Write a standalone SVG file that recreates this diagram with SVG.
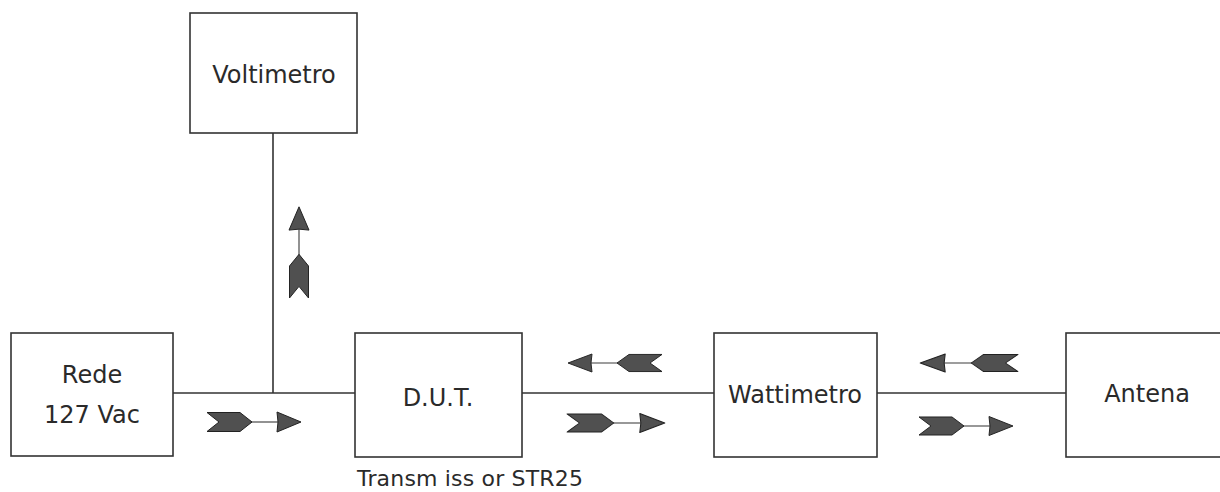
<svg xmlns="http://www.w3.org/2000/svg" xmlns:xlink="http://www.w3.org/1999/xlink" width="1220" height="492" viewBox="0 0 1220 492">
<style>
.box{fill:#fff;stroke:#333;stroke-width:1.6}
.wire{fill:none;stroke:#333;stroke-width:1.6}
.lbl{font-family:"DejaVu Sans",Verdana,sans-serif;font-size:24px;fill:#2a2a2a;text-anchor:middle}
.sub{font-family:"DejaVu Sans",Verdana,sans-serif;font-size:22px;fill:#2a2a2a}
.ah{fill:#505050;stroke:#222;stroke-width:1;stroke-linejoin:round}
.shaft{stroke:#777;stroke-width:1.6}
</style>
<defs>
<g id="arr">
<line class="shaft" x1="44" y1="0" x2="71" y2="0"/>
<polygon class="ah" points="0,-9.5 33,-9.5 45,0 33,9.5 0,9.5 12,0"/>
<polygon class="ah" points="70,-10 94,0 70,10 71,0"/>
</g>
</defs>
<rect width="1220" height="492" fill="#fff"/>
<g id="connectors">
<line class="wire" x1="173" y1="393" x2="355" y2="393"/>
<line class="wire" x1="273" y1="133" x2="273" y2="393"/>
<line class="wire" x1="522" y1="393" x2="714" y2="393"/>
<line class="wire" x1="877" y1="393" x2="1066" y2="393"/>
<use xlink:href="#arr" href="#arr" transform="translate(207,422)"/>
<use xlink:href="#arr" href="#arr" transform="translate(567,423) scale(1.04,0.95)"/>
<use xlink:href="#arr" href="#arr" transform="translate(919,426) scale(1,0.95)"/>
<use xlink:href="#arr" href="#arr" transform="translate(662,363) scale(-1,0.9)"/>
<use xlink:href="#arr" href="#arr" transform="translate(1018,363) scale(-1.04,0.9)"/>
<use xlink:href="#arr" href="#arr" transform="translate(299,298) rotate(-90) scale(0.97,1)"/>
</g>
<g id="voltimetro">
<rect class="box" x="190" y="13" width="167" height="120"/>
<text class="lbl" x="274" y="83">Voltimetro</text>
</g>
<g id="rede">
<rect class="box" x="11" y="333" width="162" height="123"/>
<text class="lbl" x="92" y="383">Rede</text>
<text class="lbl" x="92" y="423">127 Vac</text>
</g>
<g id="dut">
<rect class="box" x="355" y="333" width="167" height="124"/>
<text class="lbl" x="438" y="406">D.U.T.</text>
<text class="sub" x="357" y="486" textLength="226">Transm iss or STR25</text>
</g>
<g id="wattimetro">
<rect class="box" x="714" y="333" width="163" height="124"/>
<text class="lbl" x="795" y="403">Wattimetro</text>
</g>
<g id="antena">
<rect class="box" x="1066" y="333" width="170" height="124"/>
<text class="lbl" x="1147" y="402">Antena</text>
</g>
</svg>
